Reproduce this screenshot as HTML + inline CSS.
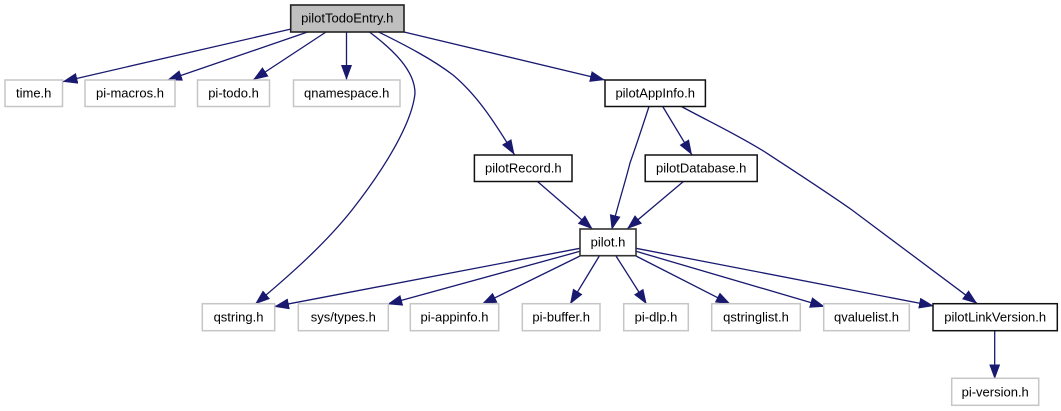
<!DOCTYPE html>
<html><head><meta charset="utf-8"><style>
html,body{margin:0;padding:0;background:#fff;width:1061px;height:411px;overflow:hidden}
svg{display:block}
text{font-family:"Liberation Sans",sans-serif;font-size:13px;fill:#000;text-anchor:middle}
.g{fill:#fff;stroke:#c6c6c6;stroke-width:1.5}
.b{fill:#fff;stroke:#111;stroke-width:1.5}
.e{fill:none;stroke:#191970;stroke-width:1.3;marker-end:url(#a)}
</style></head><body>
<svg width="1061" height="411" viewBox="0 0 1061 411" xmlns="http://www.w3.org/2000/svg">
<defs><marker id="a" markerUnits="userSpaceOnUse" markerWidth="16" markerHeight="12" refX="15" refY="5.5" orient="auto"><path d="M0,0L15,5.5L0,11z" fill="#191970"/></marker></defs>

<path class="e" d="M290,29.3L62.5,81.7"/>
<path class="e" d="M307.6,32L167,80.3"/>
<path class="e" d="M326,32L253,80"/>
<path class="e" d="M346.5,32L346.5,80"/>
<path class="e" d="M369.5,32C392,49 415,70 415,93.3C412,123 385,168 352,210C325,244 290,275 255,304.3"/>
<path class="e" d="M378.6,32C405,45 432,59 453,75C478,96 495,123 514.5,154.7"/>
<path class="e" d="M404,32L605,80"/>
<path class="e" d="M649,106.5C642,128 636,146 630,163C625,183 617,208 611.7,230"/>
<path class="e" d="M662.7,106.5L692,155"/>
<path class="e" d="M681.4,106.5C710,122 740,136 767,153.3C797,173 825,191 852,210L977.3,303.7"/>
<path class="e" d="M537.5,181.5L592.7,229.3"/>
<path class="e" d="M683.4,181.5L627,229"/>
<path class="e" d="M580,248.3L274,306.7"/>
<path class="e" d="M580,251.3L387.3,304.3"/>
<path class="e" d="M580,256L481.7,304.3"/>
<path class="e" d="M599.3,256L570,304.3"/>
<path class="e" d="M616,256L646.7,304.3"/>
<path class="e" d="M636,256L730.7,304.3"/>
<path class="e" d="M636,251.3L825,306.7"/>
<path class="e" d="M636,248.3L934,306"/>
<path class="e" d="M994.7,330.7L994.7,379.3"/>

<rect x="290.7" y="5" width="113.3" height="27" fill="#bfbfbf" stroke="#222" stroke-width="1.6"/>
<text x="347.3" y="22.7">pilotTodoEntry.h</text>

<rect class="g" x="5" y="80" width="57.5" height="26.5"/><text x="33.7" y="97.6">time.h</text>
<rect class="g" x="85" y="80" width="90" height="26.5"/><text x="130" y="97.6">pi-macros.h</text>
<rect class="g" x="197.5" y="80" width="72" height="26.5"/><text x="233.5" y="97.6">pi-todo.h</text>
<rect class="g" x="293.5" y="80" width="106.5" height="26.5"/><text x="346.7" y="97.6">qnamespace.h</text>

<rect class="b" x="605" y="80" width="100.4" height="26.5"/><text x="655.2" y="97.6">pilotAppInfo.h</text>
<rect class="b" x="474.4" y="155" width="97.6" height="26.5"/><text x="523.3" y="172.3">pilotRecord.h</text>
<rect class="b" x="645.2" y="155" width="112" height="26.5"/><text x="701.2" y="172.3">pilotDatabase.h</text>
<rect x="580" y="229" width="56" height="26.7" fill="#fff" stroke="#333" stroke-width="1.6"/><text x="608" y="246.7">pilot.h</text>

<rect class="g" x="202.3" y="303.7" width="72.4" height="27"/><text x="238.5" y="321.6">qstring.h</text>
<rect class="g" x="298.3" y="303.7" width="90" height="27"/><text x="343.3" y="321.6">sys/types.h</text>
<rect class="g" x="410.3" y="303.7" width="88.4" height="27"/><text x="454.5" y="321.6">pi-appinfo.h</text>
<rect class="g" x="522.3" y="303.7" width="77.7" height="27"/><text x="561.2" y="321.6">pi-buffer.h</text>
<rect class="g" x="623.7" y="303.7" width="64.6" height="27"/><text x="656" y="321.6">pi-dlp.h</text>
<rect class="g" x="711.7" y="303.7" width="88.6" height="27"/><text x="756" y="321.6">qstringlist.h</text>
<rect class="g" x="823.7" y="303.7" width="85.6" height="27"/><text x="866.5" y="321.6">qvaluelist.h</text>
<rect class="b" x="933" y="303.7" width="124.3" height="27"/><text x="995.2" y="321.6">pilotLinkVersion.h</text>
<rect class="g" x="951.7" y="378.3" width="87" height="27"/><text x="995.2" y="396.4">pi-version.h</text>
</svg>
</body></html>
